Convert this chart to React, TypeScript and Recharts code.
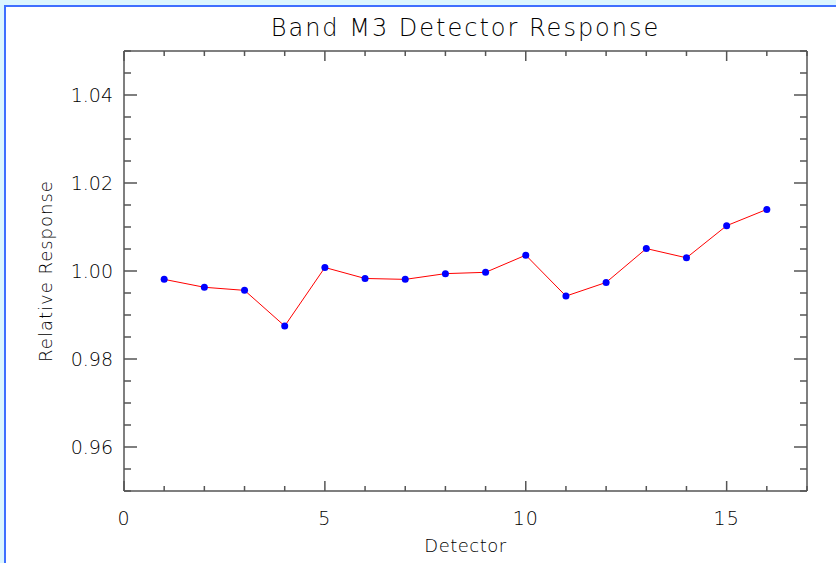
import React from "react";
import { LineChart, Line, XAxis, YAxis } from "recharts";

// detector index vs relative response
const detectors = [1, 2, 3, 4, 5, 6, 7, 8, 9, 10, 11, 12, 13, 14, 15, 16];
const response = [
  0.9981, 0.9963, 0.9956, 0.9875, 1.0008, 0.9983, 0.9981, 0.9994,
  0.9997, 1.0036, 0.9943, 0.9974, 1.0051, 1.003, 1.0103, 1.014,
];

const xTicks = [0, 1, 2, 3, 4, 5, 6, 7, 8, 9, 10, 11, 12, 13, 14, 15, 16, 17];
const xLabels = [0, 5, 10, 15];
const yTicks = [
  0.95, 0.955, 0.96, 0.965, 0.97, 0.975, 0.98, 0.985, 0.99, 0.995, 1.0,
  1.005, 1.01, 1.015, 1.02, 1.025, 1.03, 1.035, 1.04, 1.045, 1.05,
];
const yLabels = [0.96, 0.98, 1.0, 1.02, 1.04];

const data = detectors.map((d, i) => ({ detector: d, value: response[i] }));

const W = 836;
const H = 563;
const FONT = "'DejaVu Sans', sans-serif";
const WEIGHT = 200;
const AXIS = "#555555";
const TEXT = "#000000";

const isXMajor = (v: number) => xLabels.includes(v);
const isYMajor = (v: number) => yLabels.some((l) => Math.abs(l - v) < 1e-6);

function BottomTick(props: any) {
  const { x, y, payload } = props;
  const v = payload.value;
  const len = isXMajor(v) ? 10 : 5;
  return (
    <g>
      <line x1={x} y1={y} x2={x} y2={y - len} stroke={AXIS} strokeWidth={1.5} />
      {isXMajor(v) && (
        <text
          x={x}
          y={y + 34}
          textAnchor="middle"
          fontSize={19}
          fontFamily={FONT}
          fontWeight={WEIGHT}
          letterSpacing={1}
          fill={TEXT}
        >
          {v}
        </text>
      )}
    </g>
  );
}

function TopTick(props: any) {
  const { x, y, payload } = props;
  const len = isXMajor(payload.value) ? 10 : 5;
  return <line x1={x} y1={y} x2={x} y2={y + len} stroke={AXIS} strokeWidth={1.5} />;
}

function LeftTick(props: any) {
  const { x, y, payload } = props;
  const v = payload.value;
  const len = isYMajor(v) ? 13 : 7;
  return (
    <g>
      <line x1={x} y1={y} x2={x + len} y2={y} stroke={AXIS} strokeWidth={1.5} />
      {isYMajor(v) && (
        <text
          x={x - 11}
          y={y + 7}
          textAnchor="end"
          fontSize={19}
          fontFamily={FONT}
          fontWeight={WEIGHT}
          fill={TEXT}
        >
          {v.toFixed(2)}
        </text>
      )}
    </g>
  );
}

function RightTick(props: any) {
  const { x, y, payload } = props;
  const len = isYMajor(payload.value) ? 13 : 7;
  return <line x1={x} y1={y} x2={x - len} y2={y} stroke={AXIS} strokeWidth={1.5} />;
}

export default function App() {
  return (
    <div
      style={{
        position: "absolute",
        left: 0,
        top: 0,
        width: W,
        height: H,
        background: "#dcf6ff",
        overflow: "hidden",
      }}
    >
      <div
        style={{
          position: "absolute",
          left: 4,
          top: 5,
          width: W - 4,
          height: H - 5,
          background: "#ffffff",
          borderLeft: "2px solid #3f6fff",
          borderTop: "2px solid #3f6fff",
          boxSizing: "border-box",
        }}
      />
      <div
        style={{
          position: "absolute",
          left: 124,
          width: 683,
          top: 14,
          textAlign: "center",
          fontFamily: FONT,
          fontWeight: WEIGHT,
          fontSize: 24,
          letterSpacing: 2,
          color: TEXT,
        }}
      >
        Band M3 Detector Response
      </div>
      <div
        style={{
          position: "absolute",
          left: 124,
          width: 683,
          top: 535,
          textAlign: "center",
          fontFamily: FONT,
          fontWeight: WEIGHT,
          fontSize: 18,
          letterSpacing: 0.5,
          color: TEXT,
        }}
      >
        Detector
      </div>
      <div
        style={{
          position: "absolute",
          left: 45,
          top: 271,
          transform: "translate(-50%, -50%) rotate(-90deg)",
          whiteSpace: "nowrap",
          fontFamily: FONT,
          fontWeight: WEIGHT,
          fontSize: 18,
          letterSpacing: 1,
          color: TEXT,
        }}
      >
        Relative Response
      </div>
      <div style={{ position: "absolute", left: 0, top: 0 }}>
        <LineChart
          width={W}
          height={H}
          data={data}
          margin={{ top: 50, right: 28, bottom: 71, left: 123 }}
        >
          <XAxis
            dataKey="detector"
            type="number"
            domain={[0, 17]}
            ticks={xTicks}
            interval={0}
            allowDataOverflow
            height={1}
            tickSize={0}
            tickMargin={0}
            tickLine={false}
            axisLine={{ stroke: AXIS, strokeWidth: 1.5 }}
            tick={<BottomTick />}
          />
          <XAxis
            xAxisId="t"
            orientation="top"
            dataKey="detector"
            type="number"
            domain={[0, 17]}
            ticks={xTicks}
            interval={0}
            allowDataOverflow
            height={1}
            tickSize={0}
            tickMargin={0}
            tickLine={false}
            axisLine={{ stroke: AXIS, strokeWidth: 1.5 }}
            tick={<TopTick />}
          />
          <YAxis
            type="number"
            domain={[0.95, 1.05]}
            ticks={yTicks}
            interval={0}
            allowDataOverflow
            width={1}
            tickSize={0}
            tickMargin={0}
            tickLine={false}
            axisLine={{ stroke: AXIS, strokeWidth: 1.5 }}
            tick={<LeftTick />}
          />
          <YAxis
            yAxisId="r"
            orientation="right"
            type="number"
            domain={[0.95, 1.05]}
            ticks={yTicks}
            interval={0}
            allowDataOverflow
            width={1}
            tickSize={0}
            tickMargin={0}
            tickLine={false}
            axisLine={{ stroke: AXIS, strokeWidth: 1.5 }}
            tick={<RightTick />}
          />
          <Line
            dataKey="value"
            stroke="#ff0000"
            strokeWidth={1}
            dot={{ r: 3.5, fill: "#0000ff", stroke: "#0000ff", strokeWidth: 0 }}
            activeDot={false}
            isAnimationActive={false}
          />
        </LineChart>
      </div>
    </div>
  );
}
